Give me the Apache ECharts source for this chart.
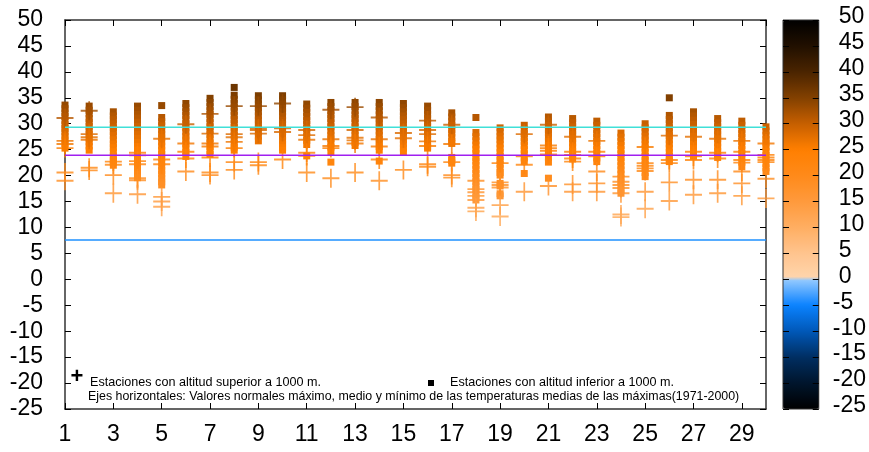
<!DOCTYPE html>
<html>
<head>
<meta charset="utf-8">
<script src="https://cdn.jsdelivr.net/npm/echarts@6/dist/echarts.min.js"></script>
<style>
html,body{margin:0;padding:0;background:#fff;}
#chart{width:869px;height:452px;}
</style>
</head>
<body>
<div id="chart"></div>
<script>
// ---- Data ----
const days = [1,2,3,4,5,6,7,8,9,10,11,12,13,14,15,16,17,18,19,20,21,22,23,24,25,26,27,28,29,30];

// Stations below 1000 m (squares), one list per day
const belowStations = [
  [33.6,32.9,32.1,31.4,30.6,29.8,29.1,28.4,27.6,26.9,26.2,25.3],
  [33.4,32.6,31.9,31.0,30.3,29.5,28.8,28.0,27.2,26.5,25.7,24.9],
  [32.3,31.5,30.8,30.0,29.2,28.5,27.7,26.9,26.1,25.4,24.6,23.8,23.0,22.6,22.0],
  [33.4,32.6,31.8,31.1,30.3,29.5,28.7,27.9,27.2,26.4,25.6,24.9,24.1,23.3,22.6,21.8,21.1,20.3,19.6],
  [33.5,31.2,30.4,29.6,28.8,28.0,27.3,26.5,25.7,24.9,24.1,23.4,22.6,21.8,21.0,20.3,19.5,18.8,18.2],
  [33.9,33.1,32.3,31.6,30.8,30.0,29.2,28.4,27.6,26.9,26.1,25.3,24.5,23.7],
  [34.9,34.1,33.3,32.5,31.8,31.0,30.2,29.4,28.7,27.9,27.1,26.3,25.6,24.8,24.1],
  [37.0,35.5,34.7,33.9,33.2,32.4,31.6,30.8,30.1,29.3,28.5,27.8,27.0,26.2,25.5,24.9],
  [35.4,34.6,33.8,33.1,32.3,31.5,30.7,30.0,29.2,28.4,27.6,26.7],
  [35.4,34.6,33.8,33.0,32.3,31.5,30.7,29.9,29.2,28.4,27.6,26.8,26.1,25.4,24.9],
  [33.8,33.0,32.2,31.4,30.6,29.9,29.1,28.3,27.5,26.8,26.0,23.8],
  [34.1,33.3,32.5,31.7,31.0,30.2,29.4,28.6,27.8,27.1,26.3,25.5,24.6,22.6],
  [34.1,33.3,32.5,31.7,31.0,30.2,29.4,28.6,27.8,27.1,26.4,25.8],
  [34.1,33.3,32.5,31.7,30.9,30.2,29.4,28.6,27.8,27.0,26.3,25.6,24.9,22.8],
  [33.9,33.1,32.3,31.5,30.8,30.0,29.2,28.4,27.6,26.9,26.1,25.3,24.6],
  [33.4,32.6,31.8,31.0,30.3,29.5,28.7,27.9,27.1,26.4,25.6,25.3],
  [32.1,31.3,30.5,29.7,28.9,28.2,27.4,26.6,26.2,23.5,22.9,22.4],
  [31.2,28.3,27.5,26.7,25.9,25.1,24.3,23.5,22.8,22.0,21.2,20.4,19.6,18.8,18.0,17.3,16.5,15.8,15.3],
  [29.2,28.4,27.6,26.9,26.1,25.3,24.5,23.7,22.9,22.2,21.4,20.6,20.1,18.5,18.0,16.5,16.1],
  [29.7,28.9,28.1,27.3,26.6,25.8,25.0,24.2,23.4,22.7,20.4],
  [31.3,30.5,29.7,28.9,28.2,27.4,26.6,25.8,25.0,24.3,23.5,22.6,19.5],
  [31.0,30.2,29.4,28.6,27.9,27.1,26.3,25.5,24.7,24.0,23.2],
  [30.5,29.7,28.9,28.1,27.4,26.6,25.8,25.0,24.2,23.4,22.7],
  [28.2,27.4,26.6,25.8,25.0,24.2,23.5,22.7,21.9,21.1,20.3,19.5,18.8,18.0,17.2,16.6],
  [30.0,29.2,28.4,27.6,26.9,26.1,25.3,24.5,23.7,22.9,22.2,21.4,20.6,19.8],
  [35.0,31.6,30.8,30.0,29.2,28.4,27.7,26.9,26.1,25.3,24.5,23.7,23.0,22.7],
  [32.3,31.5,30.7,29.9,29.1,28.4,27.6,26.8,26.0,25.2,24.4,23.7],
  [31.0,30.2,29.4,28.6,27.9,27.1,26.3,25.5,24.7,23.9,23.5],
  [30.5,29.7,28.9,28.1,27.4,26.6,25.8,25.0,24.2,23.4,22.6,21.7],
  [29.4,28.6,27.8,27.0,26.3,25.5,24.7,23.9,23.1,22.3,21.5,20.8]
];

// Stations above 1000 m (crosses), one list per day
const aboveStations = [
  [31.1,26.7,26.1,25.3,20.6,19.0],
  [32.5,28.0,27.4,26.9,21.5,21.0],
  [22.7,22.1,20.1,16.6],
  [24.4,23.9,22.8,22.2,19.5,19.1,16.4],
  [27.1,23.1,22.2,15.9,15.0,14.0],
  [29.9,26.2,24.6,23.3,20.8],
  [31.9,28.1,26.2,25.6,23.5,20.6,20.1],
  [33.4,28.0,27.4,26.5,25.3,22.6,21.1],
  [33.4,29.1,28.8,28.1,22.6,22.0],
  [33.9,29.1,28.4,23.1],
  [28.8,27.8,26.9,24.4,23.8,20.6],
  [32.7,27.0,25.7,25.3,19.5],
  [33.2,28.8,27.3,26.8,26.2,20.6],
  [31.2,27.0,25.6,23.1,19.0],
  [28.2,27.2,21.1],
  [30.6,28.8,28.0,26.6,25.7,22.2,21.7],
  [29.8,26.1,22.6,20.1,19.6],
  [19.0,17.4,16.8,16.1,15.3,13.8,13.1],
  [22.4,18.7,18.2,17.7,14.3,12.1],
  [28.0,23.7,22.1,16.9],
  [29.8,25.8,25.3,24.8,24.1,18.0],
  [27.5,24.6,24.0,23.3,22.7,18.3,16.9],
  [26.7,24.6,23.7,20.8,18.5,16.9],
  [19.8,18.8,18.2,17.6,16.6,12.5,12.0],
  [25.5,22.4,21.9,21.4,20.9,16.9,13.6],
  [27.7,23.0,22.4,18.7,15.1],
  [27.5,24.6,23.7,23.0,19.2,16.3],
  [27.1,24.4,23.3,19.2,16.6],
  [26.7,24.6,23.0,22.5,20.8,18.5,16.1],
  [26.2,24.0,23.5,23.0,22.6,19.4,15.6]
];

// Normal values (max, mean, min) of mean maximum temperatures 1971-2000
const normalNames = ['máximo', 'medio', 'mínimo'];
const normalValues = [29.3, 23.9, 7.6];
const normalColors = ['#40e0d8', '#a020f0', '#1e90ff'];

const yTicks = { min: -25, max: 50, step: 5 };
const xTicks = { min: 1, max: 30, step: 2 };

const legendAbove = 'Estaciones con altitud superior a 1000 m.';
const legendBelow = 'Estaciones con altitud inferior a 1000 m.';
const noteText = 'Ejes horizontales: Valores normales máximo, medio y mínimo de las temperaturas medias de las máximas(1971-2000)';

// Colour map stops (value -> colour)
const cmapStops = [
  [-25, '#000000'], [-20, '#00152c'], [-15, '#002e62'], [-10, '#0058b8'],
  [-5, '#0a82ff'], [-0.01, '#96caff'], [0, '#ffd6ae'], [5, '#ffc48e'],
  [10, '#ffae62'], [15, '#ff9a3c'], [20, '#ff8a1a'], [25, '#ff7f00'],
  [30, '#c65f00'], [35, '#824000'], [40, '#4a2400'], [45, '#211000'], [50, '#000000']
];

// ---- Build ----
function hex2rgb(h){ return [parseInt(h.substr(1,2),16),parseInt(h.substr(3,2),16),parseInt(h.substr(5,2),16)]; }
function colorAt(v){
  for (let i=0;i<cmapStops.length-1;i++){
    const a=cmapStops[i], b=cmapStops[i+1];
    if (v>=a[0] && v<=b[0]){
      const t=(v-a[0])/(b[0]-a[0]); const ca=hex2rgb(a[1]), cb=hex2rgb(b[1]);
      return 'rgb('+ca.map((c,k)=>Math.round(c+(cb[k]-c)*t)).join(',')+')';
    }
  }
  return cmapStops[cmapStops.length-1][1];
}
const cmap = [];
for (let v=yTicks.min; v<=yTicks.max+1e-9; v+=0.25) cmap.push(colorAt(v));

const squareData = [];
belowStations.forEach((vals,i)=>vals.forEach(v=>squareData.push([days[i], v])));
const crossData = [];
aboveStations.forEach((vals,i)=>vals.forEach(v=>crossData.push([days[i], v])));

const FONT = 'Liberation Sans, Arial, sans-serif';
const plus = 'path://M0,9H20V11H0Z M9,0H11V20H9Z';

const chart = echarts.init(document.getElementById('chart'), null, {renderer:'canvas'});
const tickStyle = {show:true, inside:true, length:6, lineStyle:{color:'#000', width:1}};
const axisLine = {show:true, onZero:false, lineStyle:{color:'#333', width:1.5}};

const option = {
  animation:false,
  backgroundColor:'#fff',
  grid:[
    {left:65, right:103, top:20, bottom:43, show:false},
    {left:783, top:20, width:36, height:389, show:true, borderColor:'#333', borderWidth:1, backgroundColor:'transparent', z:10}
  ],
  xAxis:[
    {type:'value', gridIndex:0, min:xTicks.min, max:xTicks.max, interval:xTicks.step, position:'bottom',
     axisLine:axisLine, axisTick:tickStyle, splitLine:{show:false},
     axisLabel:{show:true, showMaxLabel:false, color:'#000', fontSize:23, fontFamily:FONT, margin:14}},
    {type:'value', gridIndex:0, min:xTicks.min, max:xTicks.max, interval:xTicks.step, position:'top',
     axisLine:axisLine, axisTick:tickStyle, splitLine:{show:false}, axisLabel:{show:false}},
    {type:'value', gridIndex:1, min:0, max:1, show:false}
  ],
  yAxis:[
    {type:'value', gridIndex:0, min:yTicks.min, max:yTicks.max, interval:yTicks.step, position:'left',
     axisLine:axisLine, axisTick:tickStyle, splitLine:{show:false},
     axisLabel:{color:'#000', fontSize:23, fontFamily:FONT, margin:22, padding:[0,0,6,0]}},
    {type:'value', gridIndex:0, min:yTicks.min, max:yTicks.max, interval:yTicks.step, position:'right',
     axisLine:axisLine, axisTick:tickStyle, splitLine:{show:false}, axisLabel:{show:false}},
    {type:'value', gridIndex:1, min:yTicks.min, max:yTicks.max, interval:yTicks.step, position:'left', z:10,
     axisLine:{show:false, onZero:false}, axisTick:{show:true, inside:true, length:6, lineStyle:{color:'#000'}}, splitLine:{show:false}, axisLabel:{show:false}},
    {type:'value', gridIndex:1, min:yTicks.min, max:yTicks.max, interval:yTicks.step, position:'right', z:10,
     axisLine:{show:false, onZero:false}, axisTick:{show:true, inside:true, length:6, lineStyle:{color:'#000'}}, splitLine:{show:false},
     axisLabel:{color:'#000', fontSize:23, fontFamily:FONT, margin:14, padding:[0,0,6,0],
       formatter:function(v){ return v<0 ? '{n|'+v+'}' : '{p|'+v+'}'; },
       rich:{n:{fontSize:23, fontFamily:FONT, color:'#000'}, p:{fontSize:23, fontFamily:FONT, color:'#000', padding:[0,0,0,6]}}}}
  ],
  visualMap:{
    type:'continuous', min:yTicks.min, max:yTicks.max, dimension:1, seriesIndex:[0,1],
    inRange:{color:cmap}, left:783, top:20, itemWidth:36, itemHeight:389, padding:0,
    calculable:false, showLabel:false, text:null, hoverLink:false, orient:'vertical'
  },
  series:[
    {name:legendBelow, type:'scatter', xAxisIndex:0, yAxisIndex:0, data:squareData, symbol:'rect', symbolSize:7, clip:false, z:2,
     itemStyle:{opacity:1}},
    {name:legendAbove, type:'scatter', xAxisIndex:0, yAxisIndex:0, data:crossData, symbol:plus, symbolSize:[17,19], clip:false, z:3,
     itemStyle:{opacity:0.8}},
  ].concat(normalValues.map((v,i)=>({
    name:normalNames[i], type:'line', xAxisIndex:0, yAxisIndex:0, z:5, symbol:'none', silent:true,
    data:[[xTicks.min, v],[xTicks.max, v]], lineStyle:{color:normalColors[i], width:1.5}
  }))),
  graphic:[
    {type:'text', x:77, y:377, style:{text:'+', font:'bold 22px '+FONT, fill:'#000', align:'center', verticalAlign:'middle'}},
    {type:'text', x:90, y:383, style:{text:legendAbove, font:'12.6px '+FONT, fill:'#000', verticalAlign:'middle'}},
    {type:'rect', shape:{x:428, y:380, width:6, height:6}, style:{fill:'#000'}},
    {type:'text', x:450, y:383, style:{text:legendBelow, font:'12.6px '+FONT, fill:'#000', verticalAlign:'middle'}},
    {type:'text', x:88, y:397, style:{text:noteText, font:'12.4px '+FONT, fill:'#000', verticalAlign:'middle'}}
  ]
};
chart.setOption(option);
</script>
</body>
</html>
